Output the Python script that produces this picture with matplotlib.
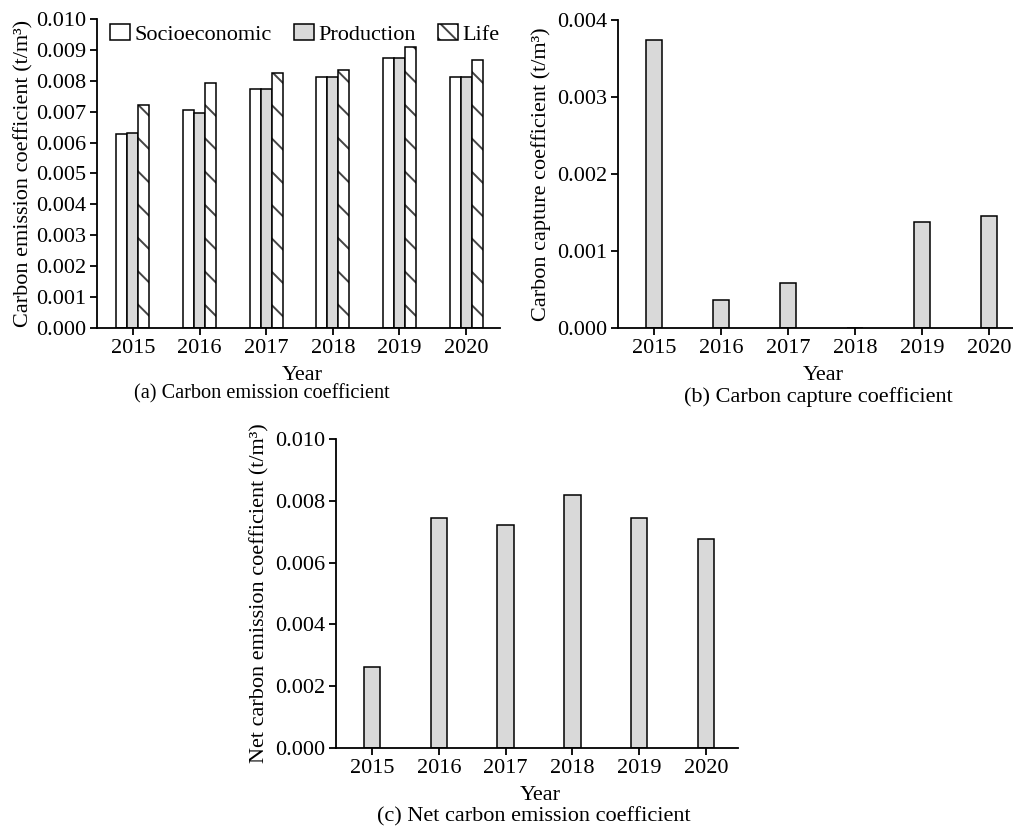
import matplotlib
matplotlib.use("Agg")
import matplotlib.pyplot as plt
import numpy as np
from matplotlib.patches import Patch

plt.rcParams["font.family"] = ["Liberation Serif", "DejaVu Serif"]
plt.rcParams["font.size"] = 16
plt.rcParams["hatch.linewidth"] = 1.4

# ---------------------------------------------------------------
# data
# ---------------------------------------------------------------
years = ["2015", "2016", "2017", "2018", "2019", "2020"]

socioeconomic = [0.00629, 0.00705, 0.00774, 0.00813, 0.00875, 0.00811]
production    = [0.00632, 0.00696, 0.00772, 0.00813, 0.00875, 0.00813]
life          = [0.00723, 0.00794, 0.00824, 0.00834, 0.00909, 0.00866]

capture = [0.00374, 0.000368, 0.000584, 0.0, 0.00138, 0.00146]

net_emission = [0.00263, 0.00745, 0.00723, 0.00820, 0.00745, 0.00677]

GRAY = "#d9d9d9"
HATCH_GRAY = "#444444"
FS = 16
W, H = 1013, 827


def px_axes(fig, left, right, top, bottom):
    return fig.add_axes([left / W, 1 - bottom / H, (right - left) / W, (bottom - top) / H])


def style_axes(ax):
    for s in ("top", "right"):
        ax.spines[s].set_visible(False)
    for s in ("left", "bottom"):
        ax.spines[s].set_linewidth(1.3)
    ax.tick_params(direction="out", length=5, width=1.3, labelsize=FS, pad=3)


fig = plt.figure(figsize=(W / 100, H / 100), dpi=100)
x = np.arange(len(years))

# --- (a) carbon emission coefficient ---
ax = px_axes(fig, 97, 500, 19, 328)
bw = 0.165
ax.bar(x - bw, socioeconomic, bw, facecolor="white", edgecolor="black", linewidth=1.1)
ax.bar(x, production, bw, facecolor=GRAY, edgecolor="black", linewidth=1.1)
ax.bar(x + bw, life, bw, facecolor="white", edgecolor=HATCH_GRAY, hatch="\\", linewidth=0)
ax.bar(x + bw, life, bw, fill=False, edgecolor="black", linewidth=1.1)
ax.set_xlim(-0.54, 5.51)
ax.set_ylim(0, 0.010)
ax.set_yticks(np.arange(0, 0.0101, 0.001))
ax.set_yticklabels([f"{v:.3f}" for v in np.arange(0, 0.0101, 0.001)])
ax.set_xticks(x)
ax.set_xticklabels(years)
ax.set_ylabel("Carbon emission coefficient (t/m³)", fontsize=FS, labelpad=2)
style_axes(ax)

handles = [
    Patch(facecolor="white", edgecolor="black", linewidth=1.1),
    Patch(facecolor=GRAY, edgecolor="black", linewidth=1.1),
    (Patch(facecolor="white", edgecolor=HATCH_GRAY, hatch="\\\\", linewidth=0),
     Patch(fill=False, edgecolor="black", linewidth=1.1)),
]
ax.legend(handles, ["Socioeconomic", "Production", "Life"], ncol=3, frameon=False,
          loc="upper left", bbox_to_anchor=(0.01, 1.013), handlelength=0.9,
          handleheight=0.75, handletextpad=0.2, columnspacing=1.0, fontsize=FS,
          borderaxespad=0)
fig.text(302 / W, 1 - 375 / H, "Year", ha="center", va="center", fontsize=FS)
fig.text(262 / W, 1 - 394 / H, "(a) Carbon emission coefficient", ha="center",
         va="center", fontsize=14.6)

# --- (b) carbon capture coefficient ---
ax = px_axes(fig, 618, 1013, 20, 328)
bw1 = 0.245
ax.bar(x, capture, bw1, facecolor=GRAY, edgecolor="black", linewidth=1.1)
ax.set_xlim(-0.54, 5.36)
ax.set_ylim(0, 0.004)
ax.set_yticks(np.arange(0, 0.00401, 0.001))
ax.set_yticklabels([f"{v:.3f}" for v in np.arange(0, 0.00401, 0.001)])
ax.set_xticks(x)
ax.set_xticklabels(years)
ax.set_ylabel("Carbon capture coefficient (t/m³)", fontsize=FS, labelpad=4)
style_axes(ax)
fig.text(823 / W, 1 - 375 / H, "Year", ha="center", va="center", fontsize=FS)
fig.text(818 / W, 1 - 397 / H, "(b) Carbon capture coefficient", ha="center",
         va="center", fontsize=FS)

# --- (c) net carbon emission coefficient ---
ax = px_axes(fig, 336, 738, 439, 748)
ax.bar(x, net_emission, bw1, facecolor=GRAY, edgecolor="black", linewidth=1.1)
ax.set_xlim(-0.54, 5.48)
ax.set_ylim(0, 0.010)
ax.set_yticks(np.arange(0, 0.0101, 0.002))
ax.set_yticklabels([f"{v:.3f}" for v in np.arange(0, 0.0101, 0.002)])
ax.set_xticks(x)
ax.set_xticklabels(years)
ax.set_ylabel("Net carbon emission coefficient (t/m³)", fontsize=FS, labelpad=4)
style_axes(ax)
fig.text(540 / W, 1 - 795 / H, "Year", ha="center", va="center", fontsize=FS)
fig.text(534 / W, 1 - 817 / H, "(c) Net carbon emission coefficient", ha="center",
         va="center", fontsize=FS)

fig.savefig("out.png", dpi=100)
